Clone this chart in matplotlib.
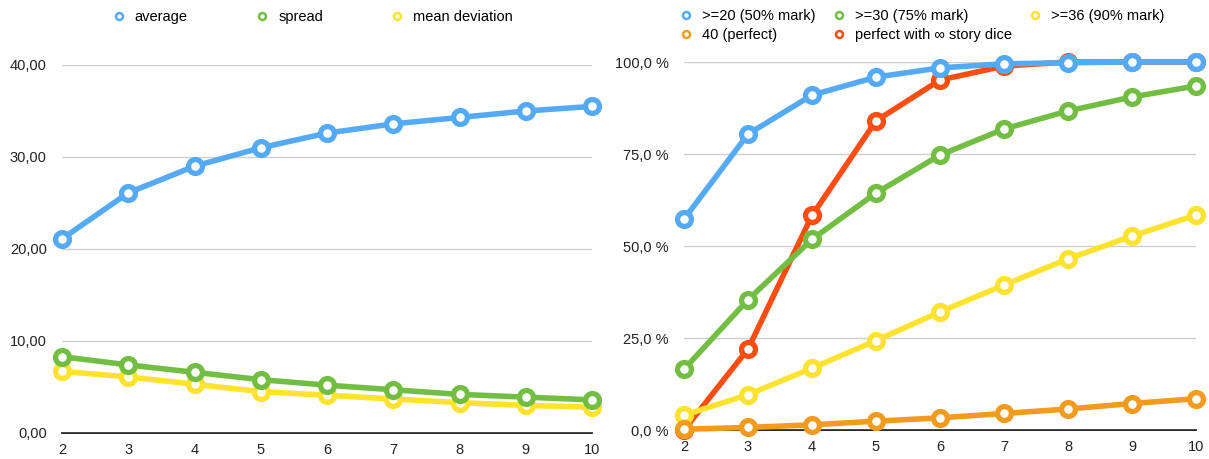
import matplotlib
matplotlib.use('Agg')
import matplotlib.pyplot as plt
from matplotlib.lines import Line2D
from matplotlib.ticker import FuncFormatter

plt.rcParams['font.family'] = ['Liberation Sans', 'DejaVu Sans']

dice = [2, 3, 4, 5, 6, 7, 8, 9, 10]

# left chart
average = [21.1, 26.1, 29.0, 31.0, 32.6, 33.6, 34.3, 35.0, 35.5]
spread = [8.3, 7.4, 6.6, 5.8, 5.2, 4.7, 4.2, 3.9, 3.6]
mean_dev = [6.7, 6.1, 5.3, 4.5, 4.1, 3.7, 3.3, 3.0, 2.8]

# right chart (percent)
p20 = [57.3, 80.4, 91.0, 95.9, 98.4, 99.5, 99.8, 100.0, 100.0]
p30 = [16.5, 35.4, 51.8, 64.4, 74.7, 81.8, 86.7, 90.5, 93.5]
p36 = [4.0, 9.6, 16.8, 24.3, 32.1, 39.4, 46.5, 52.7, 58.4]
p40 = [0.2, 0.7, 1.4, 2.4, 3.3, 4.5, 5.7, 7.2, 8.5]
p_inf = [0.0, 22.0, 58.3, 84.0, 95.1, 98.9, 100.0, 100.0, 100.0]

blue = '#55aaf6'
green = '#72be43'
yellow = '#fde22e'
orange = '#f29b1f'
red = '#ff4d12'

W, H = 1209, 459
fig = plt.figure(figsize=(W / 100, H / 100), dpi=100)
ax1 = fig.add_axes([62 / W, (H - 433) / H, 530 / W, 368 / H])
ax2 = fig.add_axes([684 / W, (H - 430) / H, 512 / W, 368 / H])

line_kw = dict(linewidth=4, marker='o', markersize=10, markeredgewidth=3.8,
               markerfacecolor='white', clip_on=False, solid_capstyle='round')


def style(ax):
    for s in ['top', 'right', 'left']:
        ax.spines[s].set_visible(False)
    ax.spines['bottom'].set_color('black')
    ax.spines['bottom'].set_linewidth(1.2)
    ax.spines['bottom'].set_zorder(0.5)
    ax.grid(axis='y', color='#cfcfcf', linewidth=1)
    ax.set_axisbelow(True)
    ax.tick_params(axis='both', length=0, labelsize=10.5, colors='#222222')
    ax.tick_params(axis='y', pad=11)
    ax.tick_params(axis='x', pad=7)
    ax.set_xlim(2, 10)
    ax.set_xticks(dice)


def legend_handles(colors):
    return [Line2D([], [], linestyle='none', marker='o', markersize=5,
                   markeredgewidth=1.8, markerfacecolor='white', markeredgecolor=c)
            for c in colors]


# Left: average / spread / mean deviation
style(ax1)
ax1.plot(dice, mean_dev, color=yellow, markeredgecolor=yellow, **line_kw)
ax1.plot(dice, spread, color=green, markeredgecolor=green, **line_kw)
ax1.plot(dice, average, color=blue, markeredgecolor=blue, **line_kw)
ax1.set_ylim(0, 40)
ax1.set_yticks([0, 10, 20, 30, 40])
ax1.yaxis.set_major_formatter(FuncFormatter(lambda v, _: f'{v:.2f}'.replace('.', ',')))
ax1.legend(legend_handles([blue, green, yellow]), ['average', 'spread', 'mean deviation'],
           loc='center', bbox_to_anchor=(313 / W, (H - 17) / H), bbox_transform=fig.transFigure,
           ncol=3, frameon=False, fontsize=10.5, handlelength=0.8, handletextpad=0.7,
           columnspacing=4.7, borderaxespad=0, borderpad=0)

# Right: probabilities
style(ax2)
ax2.plot(dice, p_inf, color=red, markeredgecolor=red, **line_kw)
ax2.plot(dice, p36, color=yellow, markeredgecolor=yellow, **line_kw)
ax2.plot(dice, p30, color=green, markeredgecolor=green, **line_kw)
ax2.plot(dice, p40, color=orange, markeredgecolor=orange, **line_kw)
ax2.plot(dice, p20, color=blue, markeredgecolor=blue, **line_kw)
ax2.set_ylim(0, 100)
ax2.set_yticks([0, 25, 50, 75, 100])
ax2.yaxis.set_major_formatter(FuncFormatter(lambda v, _: f'{v:.1f} %'.replace('.', ',')))
# legend entries ordered column-wise so they read row by row
ax2.legend(legend_handles([blue, orange, green, red, yellow]),
           ['>=20 (50% mark)', '40 (perfect)', '>=30 (75% mark)',
            'perfect with \u221e story dice', '>=36 (90% mark)'],
           loc='upper left', bbox_to_anchor=(680 / W, (H - 9) / H), bbox_transform=fig.transFigure,
           ncol=3, frameon=False, fontsize=10.5, handlelength=0.8, handletextpad=0.7,
           columnspacing=1.2, borderaxespad=0, borderpad=0, labelspacing=0.35)

fig.savefig('out.png', dpi=100, facecolor='white')
